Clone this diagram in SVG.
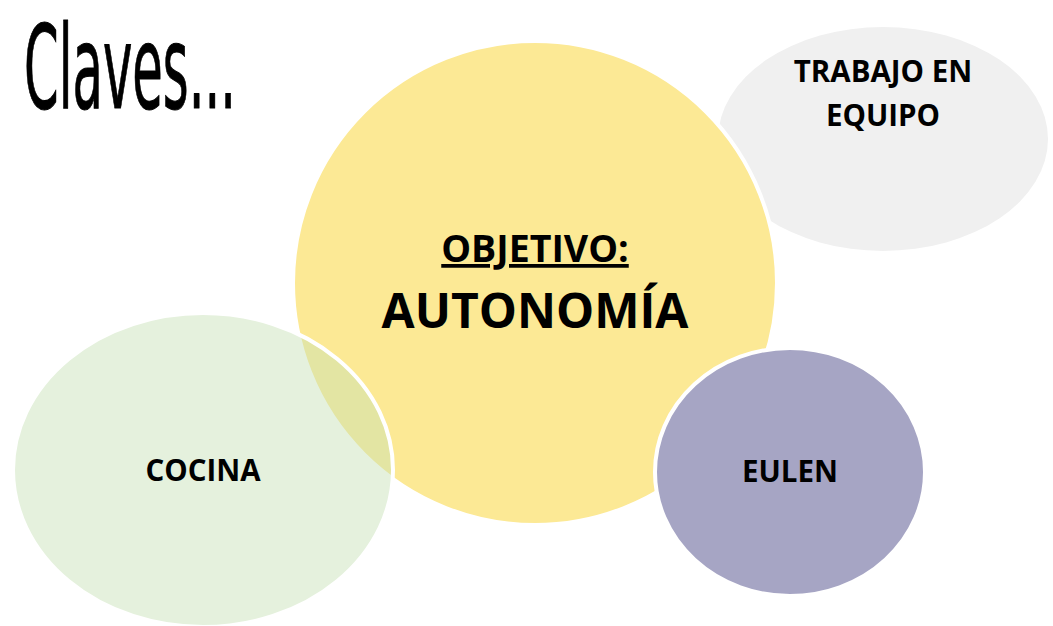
<svg xmlns="http://www.w3.org/2000/svg" width="1053" height="626" viewBox="0 0 1053 626">
<style>
.lbl{font-family:"Open Sans","Liberation Sans",sans-serif;font-weight:bold;fill:#000;text-anchor:middle}
.ring{stroke:#fff;stroke-width:4}
</style>
<rect width="1053" height="626" fill="#fff"/>
<text x="24" y="108" font-family="'DejaVu Sans Condensed','DejaVu Sans',sans-serif" font-size="116" textLength="212" lengthAdjust="spacingAndGlyphs" fill="#000" stroke="#000" stroke-width="1" stroke-linejoin="round">Claves...</text>
<g id="trabajo">
<ellipse cx="883" cy="139" rx="165" ry="112" fill="#f0f0f0"/>
<text class="lbl" x="883" y="82" font-size="29.5">TRABAJO EN</text>
<text class="lbl" x="883" y="126" font-size="29.5">EQUIPO</text>
</g>
<g id="objetivo">
<circle class="ring" cx="535" cy="283" r="242" fill="#fce995"/>
<text class="lbl" x="535" y="262" font-size="37.5" text-decoration="underline">OBJETIVO:</text>
<text class="lbl" x="535" y="328" font-size="48">AUTONOMÍA</text>
</g>
<g id="cocina">
<ellipse class="ring" cx="203" cy="470" rx="190" ry="157" fill="#c5e0b4" fill-opacity="0.45"/>
<text class="lbl" x="203" y="481" font-size="29.5">COCINA</text>
</g>
<g id="eulen">
<ellipse class="ring" cx="790" cy="472" rx="135" ry="124" fill="#a6a5c4"/>
<text class="lbl" x="790" y="482" font-size="29.5">EULEN</text>
</g>
<g id="connectors"/>
</svg>
